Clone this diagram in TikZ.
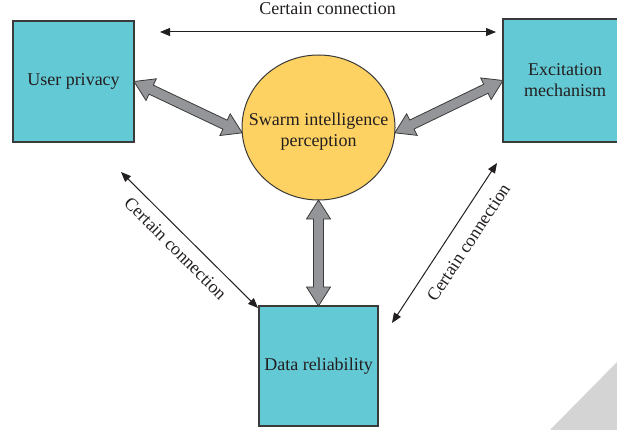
\documentclass[tikz,border=0pt]{standalone}
\usepackage{fontspec}
\setmainfont{Liberation Serif}
\usetikzlibrary{calc,arrows.meta,shapes.geometric}
\definecolor{boxfill}{HTML}{63C9D5}
\definecolor{circfill}{HTML}{FDD162}
\definecolor{arrfill}{HTML}{939598}
\definecolor{ink}{HTML}{231F20}
\definecolor{edgecol}{HTML}{3A3A3A}
\definecolor{curl}{HTML}{D4D4D4}
\newcommand\ah{19pt}
\newcommand\aw{12pt}
\newcommand\as{5pt}
\newcommand\fatarrow[2]{%
  \draw[fatarr] (#1)
    -- ($(#1)!\ah!(#2)!\aw!90:(#2)$)
    -- ($(#1)!\ah!(#2)!\as!90:(#2)$)
    -- ($(#2)!\ah!(#1)!\as!-90:(#1)$)
    -- ($(#2)!\ah!(#1)!\aw!-90:(#1)$)
    -- (#2)
    -- ($(#2)!\ah!(#1)!\aw!90:(#1)$)
    -- ($(#2)!\ah!(#1)!\as!90:(#1)$)
    -- ($(#1)!\ah!(#2)!\as!-90:(#2)$)
    -- ($(#1)!\ah!(#2)!\aw!-90:(#2)$)
    -- cycle;}
\begin{document}
\begin{tikzpicture}[x=1pt,y=-1pt,
  font=\fontsize{18}{21}\selectfont, text=ink,
  box/.style={draw=edgecol, line width=1.1pt, fill=boxfill, inner sep=0pt, outer sep=0pt, align=center},
  thinarr/.style={draw=ink, line width=1pt, {Triangle[length=10pt,width=8pt]}-{Triangle[length=10pt,width=8pt]}},
  fatarr/.style={fill=arrfill, draw=edgecol, line width=0.8pt, line join=miter},
  lbl/.style={inner sep=0pt}]
\useasboundingbox (0,0) rectangle (617,430);
\fill[curl] (550,430) -- (617,362) -- (617,430) -- cycle;

\node[box, minimum width=121pt, minimum height=121pt] (up) at (73.5,81.5) {User privacy};
\node[box, minimum width=124pt, minimum height=123pt] (ex) at (565,80.5) {Excitation\\mechanism};
\node[box, minimum width=119pt, minimum height=120pt] (dr) at (318.5,366) {Data reliability};
\node[ellipse, draw=edgecol, line width=1pt, fill=circfill, minimum width=153pt, minimum height=145pt, inner sep=0pt, outer sep=0pt] (sw) at (318.5,127.5) {};
\node[align=center, lbl] (swt) at (318.5,132) {Swarm intelligence\\perception};

\fatarrow{up.east}{sw.184}
\fatarrow{ex.west}{sw.-4}
\fatarrow{sw.south}{dr.north}

\coordinate (t1) at (160,32);
\coordinate (t2) at (496,32);
\draw[thinarr] (t1) -- (t2);
\node[lbl, anchor=base] (tl) at (327.5,15) {Certain connection};

\coordinate (l1) at (121,172);
\coordinate (l2) at (258,308);
\draw[thinarr] (l1) -- (l2);
\node[lbl, rotate=-45] (ll) at (175.5,248.5) {Certain connection};

\coordinate (r1) at (497,163);
\coordinate (r2) at (392,323);
\draw[thinarr] (r1) -- (r2);
\node[lbl, rotate=56.7] (rl) at (468.5,242.5) {Certain connection};
\end{tikzpicture}
\end{document}
